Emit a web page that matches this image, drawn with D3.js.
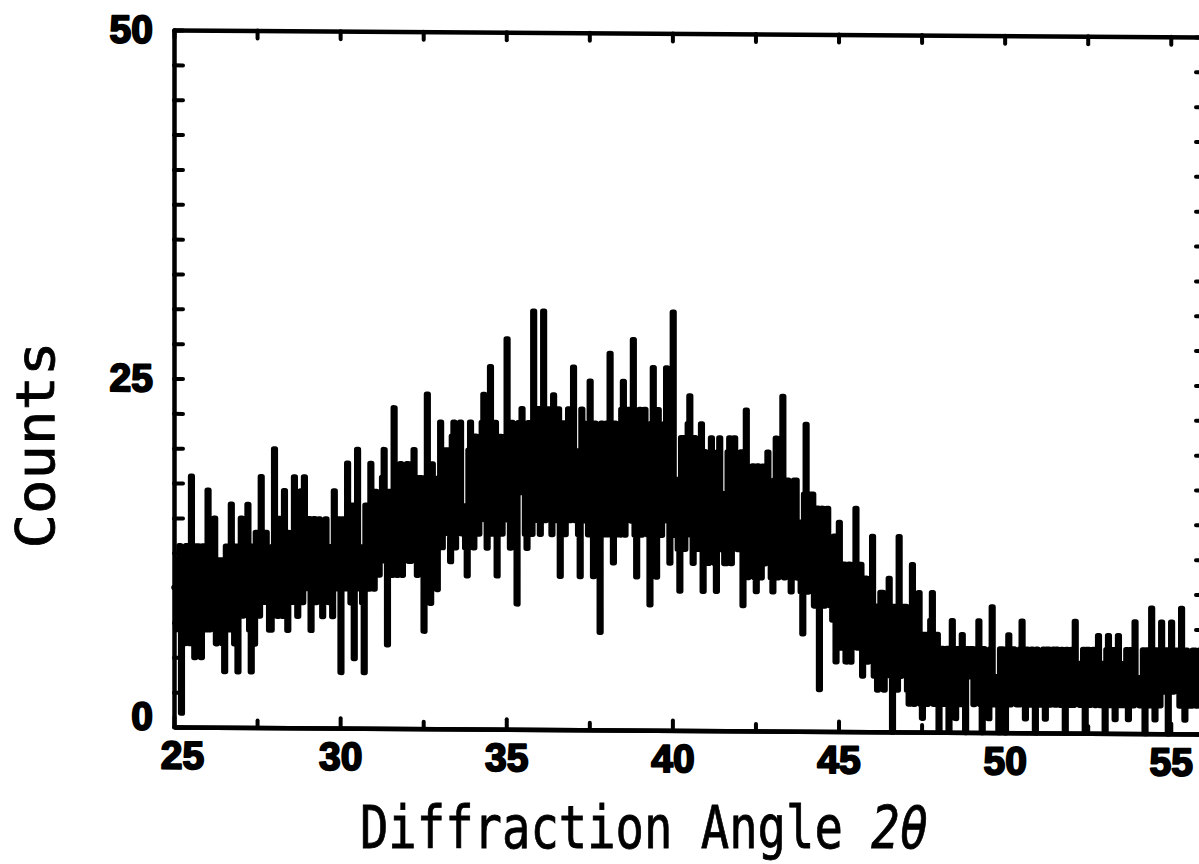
<!DOCTYPE html>
<html>
<head>
<meta charset="utf-8">
<script src="https://cdn.jsdelivr.net/npm/d3@7"></script>
<style>
  body { margin: 0; background: #fff; }
</style>
</head>
<body>
<div id="chart"></div>
<script>
// scan grid
const angleStart = 25.0;
const angleStep = 0.05;

// counts, one per 0.05 deg step, one row per degree (25 .. 55.95)
const counts = [
  10, 7, 12, 13, 1, 12, 6, 13, 11, 6, 18, 7, 5, 13, 13, 6, 5, 13, 10, 7,         // 25
  17, 7, 8, 13, 15, 6, 7, 12, 12, 6, 4, 13, 11, 7, 16, 8, 6, 13, 4, 12,          // 26
  15, 8, 9, 14, 16, 7, 4, 13, 6, 14, 12, 8, 18, 9, 9, 14, 11, 7, 7, 13,          // 27
  20, 9, 8, 15, 12, 8, 17, 10, 7, 14, 13, 9, 18, 10, 8, 15, 17, 9, 18, 10,       // 28
  10, 15, 7, 14, 15, 9, 11, 15, 14, 8, 9, 15, 12, 9, 13, 8, 17, 10, 11, 15,      // 29
  4, 15, 12, 10, 19, 11, 9, 16, 5, 15, 20, 10, 13, 9, 4, 16, 14, 10, 19, 11,     // 30
  10, 17, 15, 11, 13, 18, 20, 12, 6, 17, 14, 11, 23, 12, 11, 18, 19, 11, 14, 17, // 31
  19, 12, 12, 19, 20, 13, 11, 18, 18, 12, 7, 18, 24, 13, 9, 19, 14, 12, 10, 18,  // 32
  22, 13, 15, 20, 20, 14, 12, 21, 22, 13, 14, 20, 22, 14, 16, 13, 11, 20, 22, 14, // 33
  13, 21, 18, 14, 16, 22, 24, 15, 13, 21, 26, 14, 15, 22, 11, 21, 21, 14, 16, 21, // 34
  28, 15, 13, 22, 21, 14, 9, 22, 17, 23, 20, 14, 13, 22, 21, 14, 30, 15, 17, 23,  // 35
  14, 22, 30, 15, 17, 23, 21, 14, 24, 15, 16, 23, 11, 22, 22, 14, 18, 23, 15, 22, // 36
  26, 15, 20, 14, 11, 23, 22, 15, 19, 14, 25, 15, 11, 22, 18, 14, 7, 22, 20, 14,  // 37
  22, 14, 27, 15, 12, 22, 20, 14, 14, 23, 25, 14, 19, 23, 22, 15, 28, 14, 11, 22, // 38
  23, 14, 17, 23, 20, 14, 9, 22, 26, 15, 11, 23, 19, 14, 16, 22, 26, 15, 12, 22,  // 39
  30, 14, 18, 13, 10, 21, 21, 13, 16, 22, 24, 14, 12, 21, 18, 13, 15, 22, 10, 20, // 40
  19, 12, 15, 21, 19, 12, 10, 20, 21, 13, 17, 12, 12, 20, 21, 12, 14, 21, 18, 13, // 41
  15, 20, 9, 19, 23, 11, 17, 12, 19, 11, 10, 19, 16, 11, 19, 12, 13, 20, 17, 11,  // 42
  10, 18, 21, 11, 15, 19, 24, 11, 13, 18, 17, 10, 11, 18, 18, 11, 15, 10, 7, 17,  // 43
  22, 10, 12, 17, 17, 9, 14, 16, 3, 15, 16, 9, 10, 16, 13, 9, 8, 14, 5, 13,       // 44
  15, 6, 9, 12, 5, 11, 12, 5, 8, 12, 16, 6, 7, 12, 4, 11, 11, 5, 7, 11,           // 45
  14, 4, 9, 3, 5, 10, 10, 3, 6, 9, 11, 4, 0, 9, 8, 3, 14, 4, 5, 9,                // 46
  9, 3, 2, 8, 12, 2, 6, 8, 10, 2, 1, 7, 7, 2, 4, 8, 10, 2, 3, 7,                  // 47
  0, 6, 6, 2, 3, 6, 0, 6, 8, 2, 1, 6, 5, 2, 7, 2, 0, 6, 4, 6,                     // 48
  6, 2, 3, 6, 8, 2, 0, 6, 5, 2, 1, 6, 9, 2, 4, 2, 0, 6, 6, 2,                     // 49
  0, 6, 7, 2, 3, 6, 5, 2, 2, 6, 8, 2, 1, 6, 4, 2, 6, 2, 0, 6,                     // 50
  5, 2, 3, 6, 1, 6, 6, 2, 4, 6, 2, 6, 5, 2, 6, 2, 0, 6, 4, 2,                     // 51
  6, 2, 8, 3, 5, 2, 3, 6, 0, 6, 6, 2, 4, 6, 2, 6, 7, 2, 5, 2,                     // 52
  0, 6, 7, 2, 4, 6, 1, 6, 7, 2, 5, 2, 3, 6, 1, 6, 6, 2, 8, 3,                     // 53
  4, 2, 2, 6, 0, 6, 6, 2, 9, 3, 1, 6, 5, 2, 8, 3, 3, 6, 0, 6,                     // 54
  8, 3, 4, 6, 6, 2, 9, 3, 1, 6, 5, 2, 2, 6, 6, 2, 4, 6, 5, 2                      // 55
];

const xTickLabels = [25, 30, 35, 40, 45, 50, 55];
const xMinorTicks = [27.5, 32.5, 37.5, 42.5, 47.5, 52.5];
const yTickLabels = [0, 25, 50];
const yMinorTicks = [2.5, 5, 7.5, 10, 12.5, 15, 17.5, 20, 22.5, 27.5, 30, 32.5, 35, 37.5, 40, 42.5, 45, 47.5];

const width = 1199;
const height = 864;
const plot = { left: 174, right: 1204, top: 30, bottom: 727 };

const data = counts.map((c, i) => ({ angle: angleStart + i * angleStep, count: c }));

const x = d3.scaleLinear().domain([25, 56]).range([plot.left, plot.right]);
const y = d3.scaleLinear().domain([0, 50]).range([plot.bottom, plot.top]);

const svg = d3
  .select("#chart")
  .append("svg")
  .attr("width", width)
  .attr("height", height);

// the scanned figure is slightly sheared, carry that over
const k = 0.0068;
const g = svg
  .append("g")
  .attr("transform", `matrix(1, ${k}, 0, 1, 0, ${-k * plot.left})`);

// scan trace (thick plotter pen)
g.append("path")
  .datum(data)
  .attr("fill", "none")
  .attr("stroke", "#000")
  .attr("stroke-width", 5.5)
  .attr("stroke-linejoin", "round")
  .attr("stroke-linecap", "round")
  .attr(
    "d",
    d3
      .line()
      .x((d) => x(d.angle))
      .y((d) => y(d.count))
      .curve(d3.curveStepAfter)
  );

// frame + inward ticks
function styleAxis(sel) {
  sel.select(".domain").attr("stroke", "#000").attr("stroke-width", 4.5);
  sel
    .selectAll(".tick line")
    .attr("stroke", "#000")
    .attr("stroke-width", 4)
    .attr("stroke-linecap", "round");
}

const xMajorTicks = xTickLabels;

g.append("g")
  .attr("transform", `translate(0, ${plot.bottom})`)
  .call(d3.axisBottom(x).tickValues(xMajorTicks).tickSizeInner(-10).tickSizeOuter(0).tickFormat(""))
  .call(styleAxis);
g.append("g")
  .attr("transform", `translate(0, ${plot.bottom})`)
  .call(d3.axisBottom(x).tickValues(xMinorTicks).tickSizeInner(-7).tickSizeOuter(0).tickFormat(""))
  .call(styleAxis);

g.append("g")
  .attr("transform", `translate(0, ${plot.top})`)
  .call(d3.axisTop(x).tickValues(xMajorTicks.concat(xMinorTicks)).tickSizeInner(-8).tickSizeOuter(0).tickFormat(""))
  .call(styleAxis);

g.append("g")
  .attr("transform", `translate(${plot.left}, 0)`)
  .call(d3.axisLeft(y).tickValues(yMinorTicks.concat(yTickLabels)).tickSizeInner(-9).tickSizeOuter(0).tickFormat(""))
  .call(styleAxis);

g.append("g")
  .attr("transform", `translate(${plot.right}, 0)`)
  .call(d3.axisRight(y).tickValues(yMinorTicks.concat(yTickLabels)).tickSizeInner(-8).tickSizeOuter(0).tickFormat(""))
  .call(styleAxis);

// tick labels, heavy face
function styleLabels(sel) {
  sel
    .selectAll("text")
    .attr("fill", "#000")
    .attr("stroke", "#000")
    .attr("stroke-width", 2)
    .attr("stroke-linejoin", "round")
    .style("font-family", "'Liberation Sans', Arial, sans-serif")
    .style("font-weight", "900")
    .style("font-size", "39px");
}

const xLabels = g
  .append("g")
  .attr("transform", `translate(0, ${plot.bottom})`)
  .call(d3.axisBottom(x).tickValues(xTickLabels).tickSize(0).tickPadding(14).tickFormat(d3.format("d")));
xLabels.select(".domain").remove();
xLabels.call(styleLabels);
xLabels.selectAll("text").attr("dx", (d) => (d === 25 ? 8 : 0));

const yLabels = g
  .append("g")
  .attr("transform", `translate(${plot.left}, 0)`)
  .call(d3.axisLeft(y).tickValues(yTickLabels).tickSize(0).tickPadding(21).tickFormat(d3.format("d")));
yLabels.select(".domain").remove();
yLabels.call(styleLabels);
yLabels.selectAll("text").attr("dy", (d) => (d === 0 ? "0.06em" : "0.32em"));

// axis titles
const xTitle = svg
  .append("text")
  .attr("transform", "translate(644, 848) scale(0.8, 1)")
  .attr("text-anchor", "middle")
  .attr("stroke", "#000")
  .attr("stroke-width", 0.8)
  .style("font-family", "'DejaVu Sans Mono', monospace")
  .style("font-size", "59px")
  .attr("fill", "#000");
xTitle.append("tspan").text("Diffraction Angle ");
xTitle.append("tspan").style("font-style", "italic").text("2θ");

svg
  .append("text")
  .attr("transform", "translate(54, 445) rotate(-90) scale(1.08, 1)")
  .attr("text-anchor", "middle")
  .attr("stroke", "#000")
  .attr("stroke-width", 0.8)
  .style("font-family", "'DejaVu Sans Mono', monospace")
  .style("font-size", "53px")
  .attr("fill", "#000")
  .text("Counts");
</script>
</body>
</html>
